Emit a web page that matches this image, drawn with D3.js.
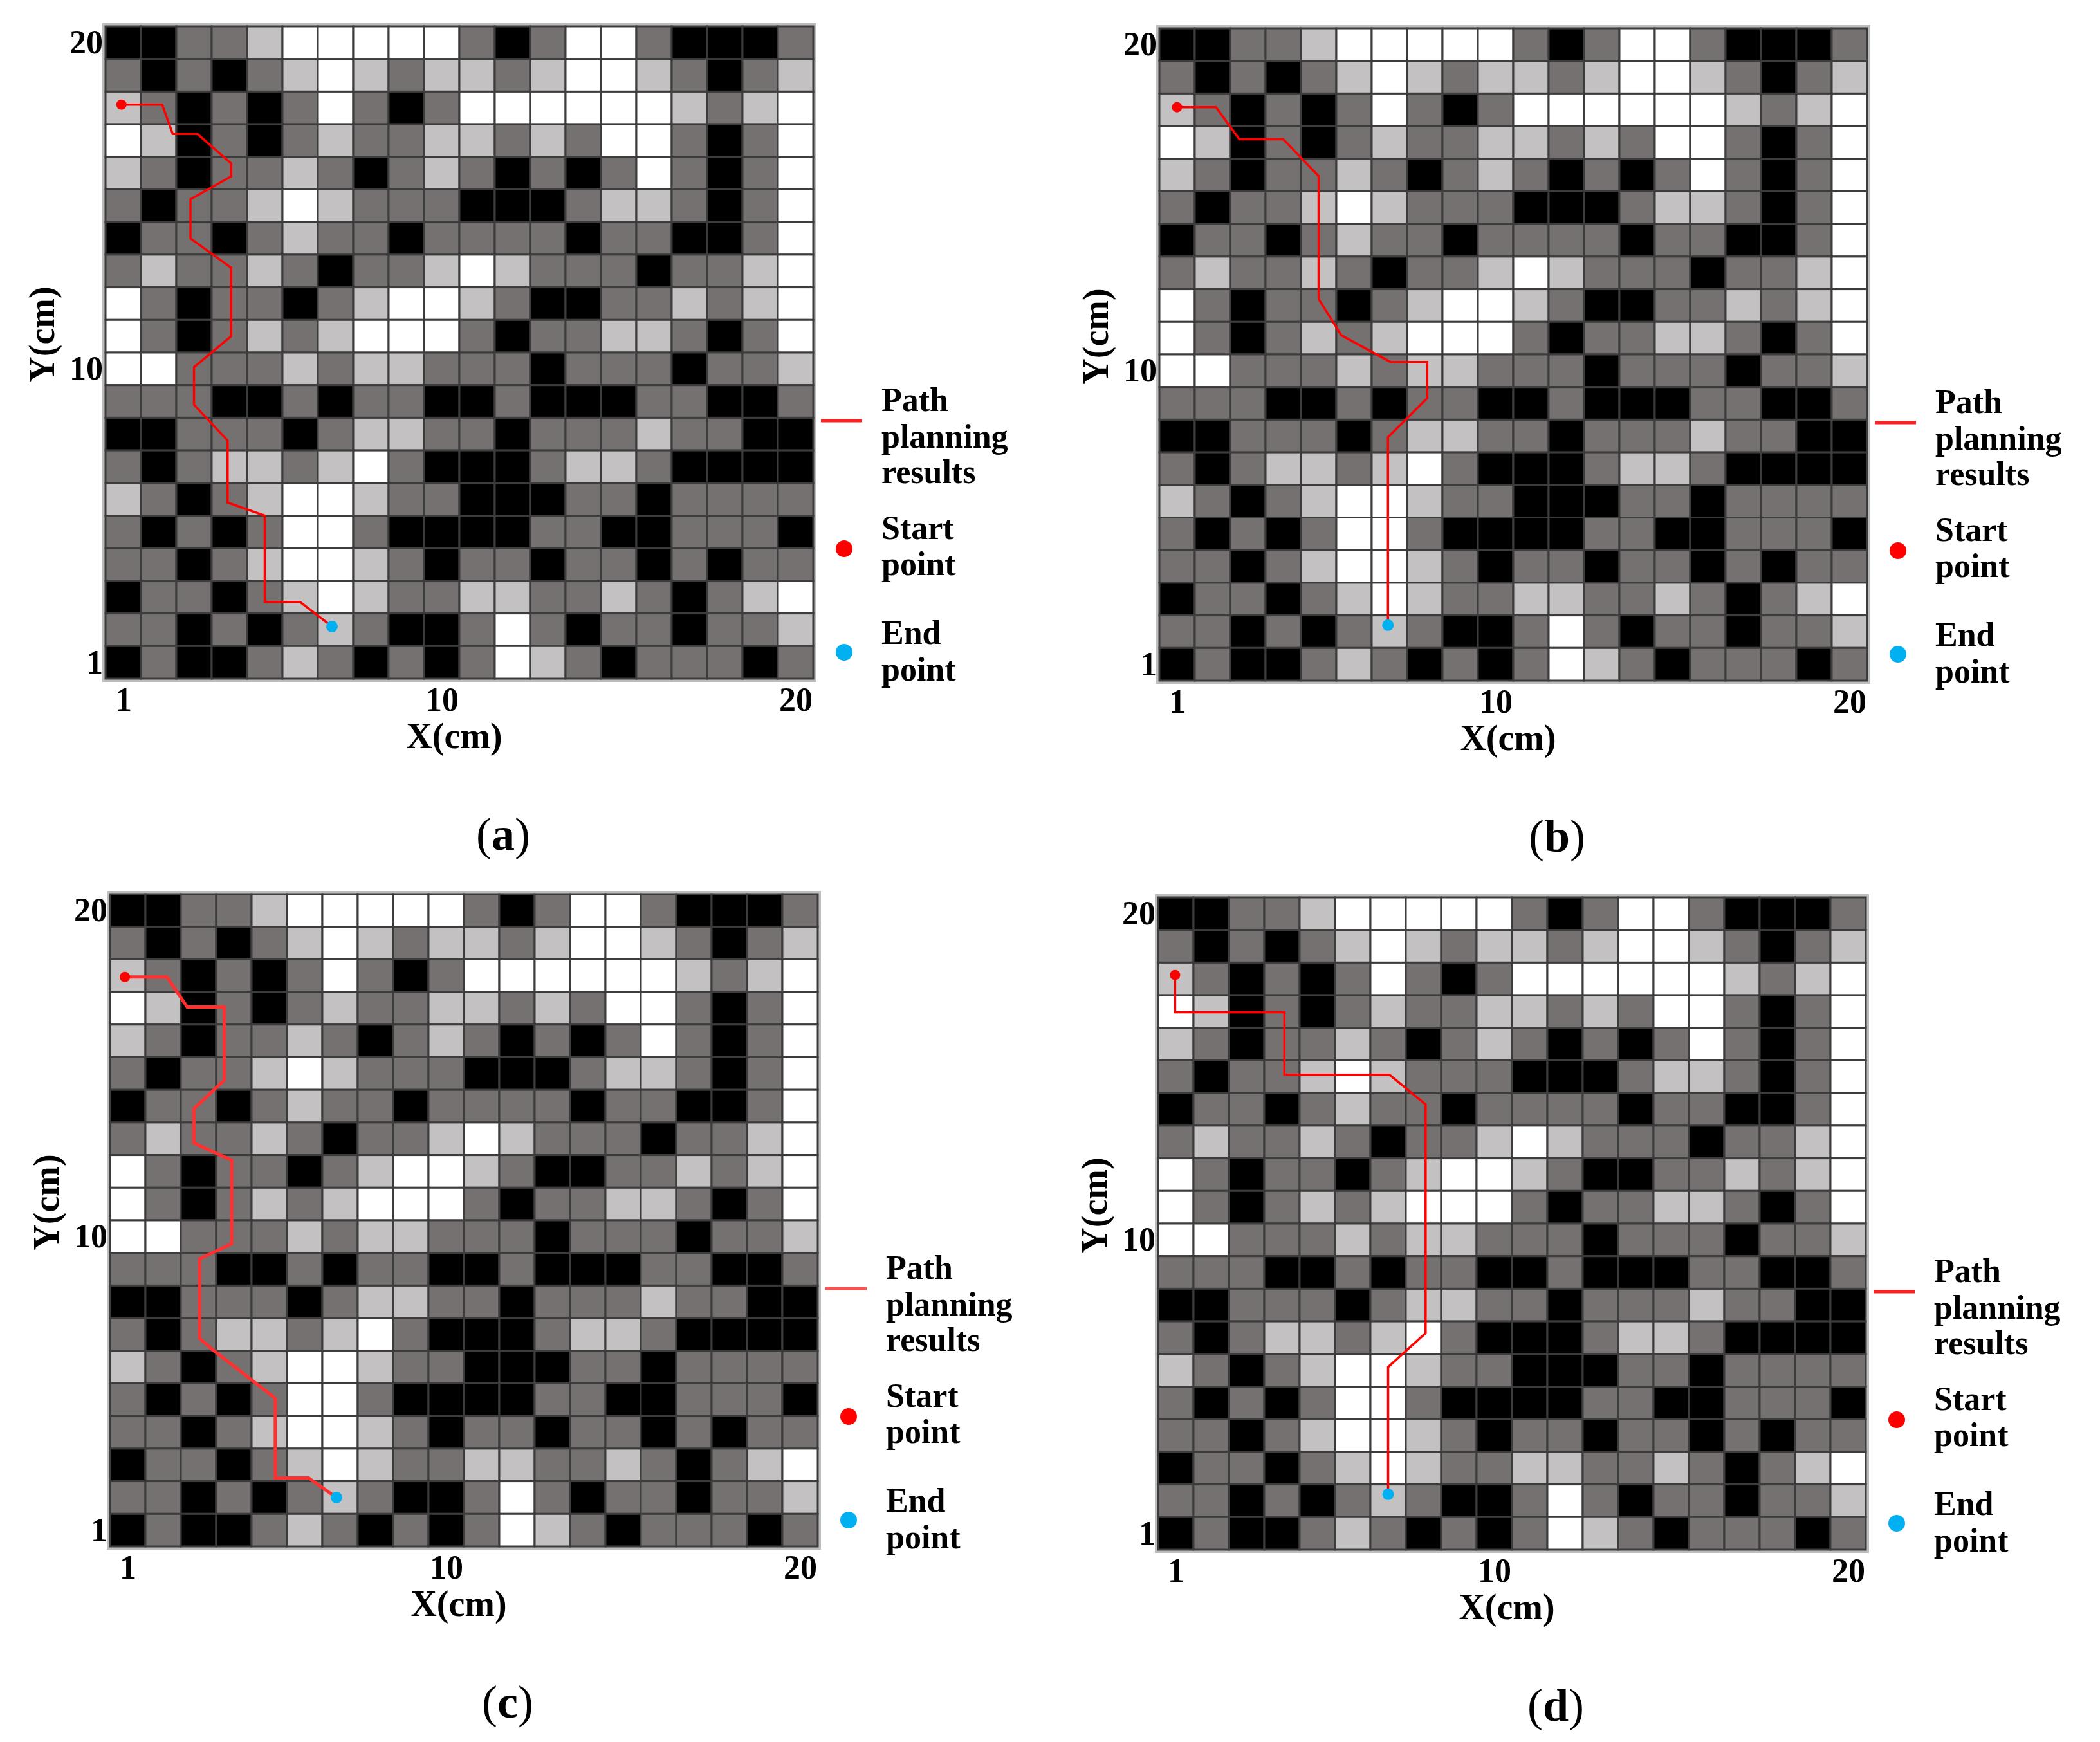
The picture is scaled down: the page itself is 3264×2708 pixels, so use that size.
<!DOCTYPE html>
<html>
<head>
<meta charset="utf-8">
<script src="https://d3js.org/d3.v7.min.js"></script>
<style>
  body { margin: 0; background: #fff; }
  text { font-family: "Liberation Serif", "DejaVu Serif", serif; }
</style>
</head>
<body>
<script>
// grid rows, top (y=20) to bottom (y=1); B black, D dark gray, L light gray, W white
var gridRows = [
  "BBDDLWWWWWDBDWWDBBBD",
  "DBDBDLWLDLLDLWWLDBDL",
  "LDBDBDWDBDWWWWWWLDLW",
  "WLBDBDLDDLLDLDWWDBDW",
  "LDBDDLDBDLDBDBDWDBDW",
  "DBDDLWLDDDBBBDLLDBDW",
  "BDDBDLDDBDDDDBDDBBDW",
  "DLDDLDBDDLWLDDDBDDLW",
  "WDBDDBDLWWLDBBDDLDLW",
  "WDBDLDLWWWDBDDLLDBDW",
  "WWDDDLDLLDDDBDDDBDDL",
  "DDDBBDBDDBBDBBBDDBBD",
  "BBDDDBDLLDDBDDDLDDBB",
  "DBDLLDLWDBBBDLLDBBBB",
  "LDBDLWWLDDBBBDDBDDDD",
  "DBDBDWWDBBBBDDBBDDDB",
  "DDBDLWWLDBDDBDDBDBDD",
  "BDDBDLWLDDLLDDLDBDLW",
  "DDBDBDLDBBDWDBDDBDDL",
  "BDBBDLDBDBDWLDBDDDBD"
];
var shadeColor = { B: "#000000", D: "#767171", L: "#c3c1c1", W: "#ffffff" };
var tickValues = [1, 10, 20];
var panelLetters = ["a", "b", "c", "d"];
// path vertices per panel in cell units
var pathA = [[0.95,18.1],[2.1,18.1],[2.4,17.2],[3.1,17.2],[4.05,16.3],[4.05,15.9],[2.9,15.2],[2.9,14.0],[4.05,13.1],[4.05,11.0],[3.0,10.05],[3.0,8.9],[3.95,7.8],[3.95,5.9],[5.0,5.5],[5.0,2.85],[6.0,2.85],[6.9,2.1]];
var pathB = [[1.0,18.08],[2.1,18.08],[2.76,17.1],[4.0,17.1],[5.0,15.97],[5.0,12.2],[5.64,11.09],[7.03,10.27],[8.07,10.27],[8.07,9.16],[6.96,7.96],[6.96,2.2]];
var pathC = [[0.92,17.96],[2.11,17.96],[2.68,17.04],[3.73,17.04],[3.73,14.8],[2.87,13.92],[2.87,12.87],[3.94,12.34],[3.94,9.78],[3.03,9.32],[3.03,6.88],[3.38,6.55],[5.17,5.04],[5.17,2.6],[6.11,2.6],[6.9,2.0]];
var pathD = [[0.98,18.12],[0.98,16.98],[4.07,16.98],[4.07,15.06],[7.04,15.06],[8.06,14.15],[8.06,7.14],[7.0,6.1],[7.0,2.2]];
var paths = [pathA, pathB, pathC, pathD];

var W = 3264, H = 2708;
var svg = d3.select("body").append("svg").attr("width", W).attr("height", H);

var panelOrigins = [[164, 41], [1802, 44], [171, 1390], [1800, 1395]];
var gw = 1100, gh = 1014;

var cells = [];
gridRows.forEach(function (row, r) {
  row.split("").forEach(function (c, i) {
    cells.push({ x: i + 1, y: 20 - r, s: c });
  });
});

panelOrigins.forEach(function (o, p) {
  var g = svg.append("g").attr("transform", "translate(" + o[0] + "," + o[1] + ")");
  var x = d3.scaleLinear().domain([0.5, 20.5]).range([0, gw]);
  var y = d3.scaleLinear().domain([0.5, 20.5]).range([gh, 0]);
  var cw = x(1.5) - x(0.5), ch = y(0.5) - y(1.5);

  g.append("rect").attr("x", -3).attr("y", -3).attr("width", gw + 6).attr("height", gh + 6)
    .attr("fill", "none").attr("stroke", "#bdbdbd").attr("stroke-width", 4);

  g.selectAll("rect.cell").data(cells).enter().append("rect")
    .attr("class", "cell")
    .attr("x", d => x(d.x - 0.5))
    .attr("y", d => y(d.y + 0.5))
    .attr("width", cw).attr("height", ch)
    .attr("fill", d => shadeColor[d.s])
    .attr("stroke", "#3c3c3c").attr("stroke-width", 3);

  var line = d3.line().x(d => x(d[0])).y(d => y(d[1]));
  g.append("path").attr("d", line(paths[p]))
    .attr("fill", "none").attr("stroke", p == 2 ? "#ff3030" : "#ff0000")
    .attr("stroke-width", p == 2 ? 5 : 3.5);

  g.append("circle").attr("cx", x(paths[p][0][0])).attr("cy", y(paths[p][0][1])).attr("r", 8).attr("fill", "#ff0000");
  var last = paths[p][paths[p].length - 1];
  g.append("circle").attr("cx", x(last[0])).attr("cy", y(last[1])).attr("r", 9).attr("fill", "#00b0f0");

  // axes
  var xa = g.append("g").attr("transform", "translate(0," + (gh + 8) + ")")
    .call(d3.axisBottom(x).tickValues(tickValues).tickSize(0).tickPadding(0));
  xa.select(".domain").remove();
  xa.selectAll("text").attr("font-size", 52).attr("font-weight", "bold").attr("fill", "#000")
    .attr("dy", "0.8em").style("font-family", "Liberation Serif, serif");

  var ya = g.append("g").attr("transform", "translate(-4,0)")
    .call(d3.axisLeft(y).tickValues(tickValues).tickSize(0).tickPadding(0));
  ya.select(".domain").remove();
  ya.selectAll("text").attr("font-size", 52).attr("font-weight", "bold").attr("fill", "#000")
    .style("font-family", "Liberation Serif, serif");

  g.append("text").attr("x", gw / 2 - 8).attr("y", gh + 108).attr("text-anchor", "middle")
    .attr("font-size", 56).attr("font-weight", "bold").text("X(cm)");
  g.append("text").attr("transform", "translate(-80," + (gh / 2 - 28) + ") rotate(-90)")
    .attr("text-anchor", "middle").attr("font-size", 56).attr("font-weight", "bold").text("Y(cm)");

  // legend
  var lx = gw;
  g.append("line").attr("x1", lx + 12).attr("x2", lx + 76).attr("y1", 613).attr("y2", 613)
    .attr("stroke", p == 2 ? "#ff5050" : "#ff2020").attr("stroke-width", 5);
  g.append("circle").attr("cx", lx + 48).attr("cy", 812).attr("r", 13).attr("fill", "#ff0000");
  g.append("circle").attr("cx", lx + 48).attr("cy", 973).attr("r", 13).attr("fill", "#00b0f0");
  var legendLines = [["Path", 598], ["planning", 655], ["results", 710], ["Start", 797], ["point", 853], ["End", 960], ["point", 1017]];
  g.selectAll("text.leg").data(legendLines).enter().append("text")
    .attr("class", "leg").attr("x", lx + 106).attr("y", d => d[1])
    .attr("font-size", 52).attr("font-weight", "bold").text(d => d[0]);

  // sub caption
  var cap = g.append("text").attr("x", gw / 2 + 68).attr("y", gh + 266).attr("text-anchor", "middle")
    .attr("font-size", 72);
  cap.append("tspan").text("(");
  cap.append("tspan").attr("font-weight", "bold").text(panelLetters[p]);
  cap.append("tspan").text(")");
});
</script>
</body>
</html>
